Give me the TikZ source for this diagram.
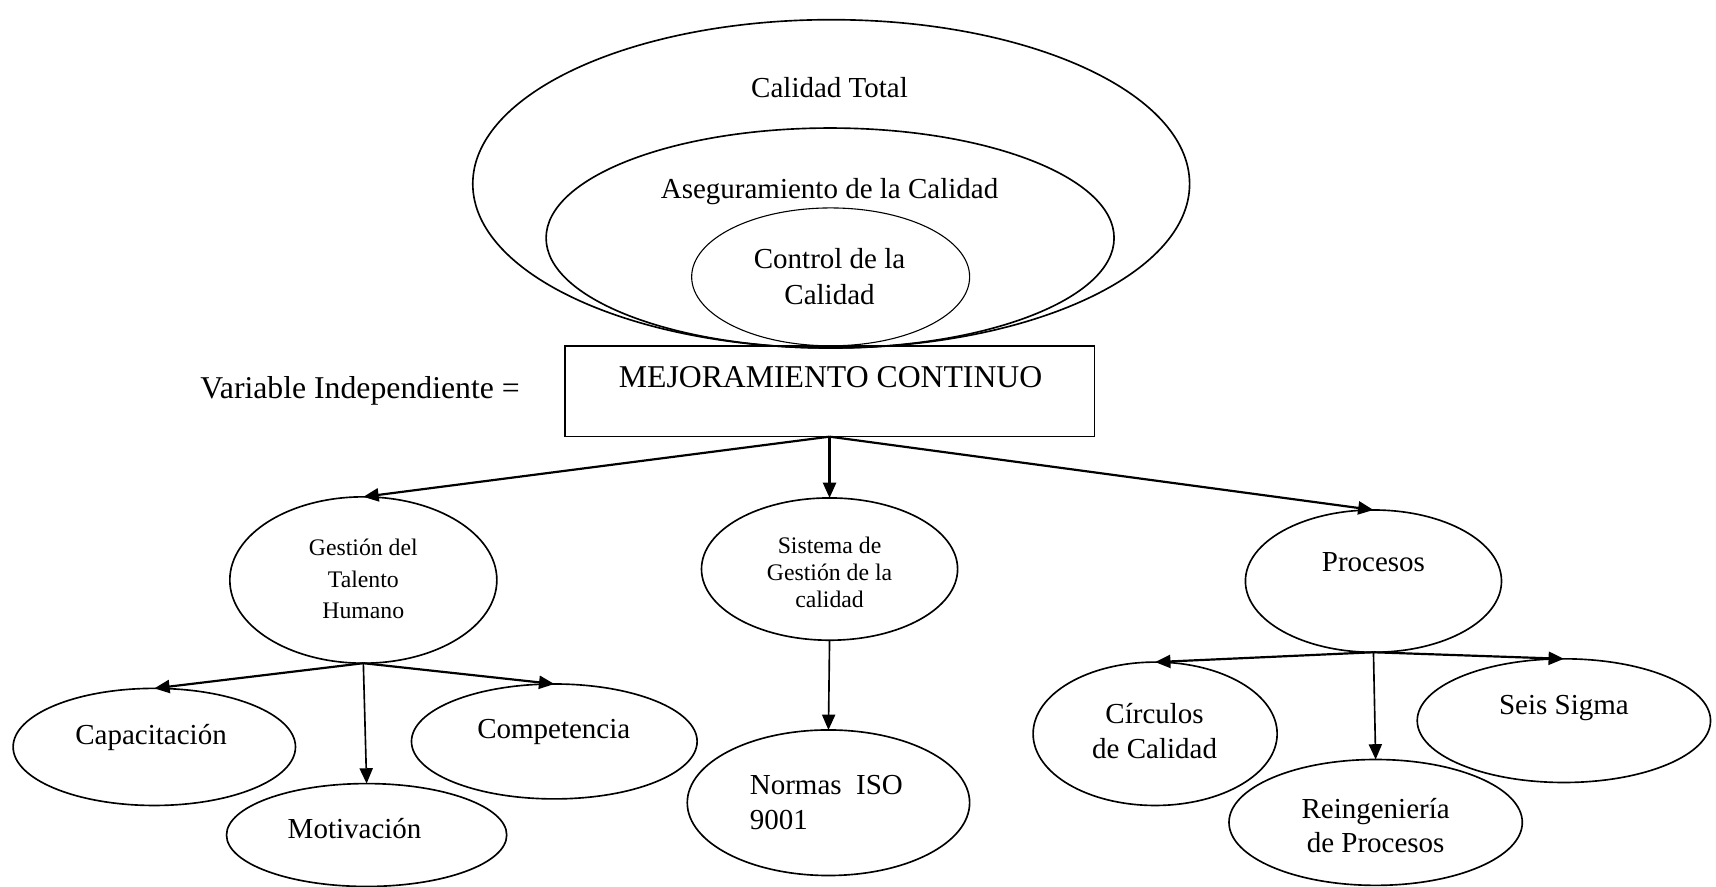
\documentclass[tikz,border=0pt]{standalone}
\usepackage{fontspec}
\setmainfont{Liberation Serif}
\usetikzlibrary{shapes.geometric,arrows.meta}
\begin{document}
\begin{tikzpicture}[x=1pt,y=-1pt,
  oval/.style={draw, ellipse, inner sep=0pt, outer sep=0pt, line width=1.5pt},
  txt/.style={font=\fontsize{26.5}{32}\selectfont, inner sep=0pt, align=center},
  bigtxt/.style={font=\fontsize{29}{34}\selectfont, inner sep=0pt},
  smalltxt/.style={font=\fontsize{21.7}{29}\selectfont, inner sep=0pt, align=center},
  link/.style={-{Triangle[length=14pt,width=12pt]}, line width=2pt},
  vlink/.style={-{Triangle[length=14pt,width=12pt]}, line width=1.5pt},
]
\useasboundingbox (0,0) rectangle (1568,810);

% nested quality ellipses
\node[oval, minimum width=655pt, minimum height=300pt] (total) at (759.5,168) {};
\node[oval, minimum width=519pt, minimum height=201pt] (aseg) at (758.5,217.5) {};
\node[oval, line width=1pt, minimum width=254pt, minimum height=126pt] (ctrl) at (759,253) {};
\node[txt] (totalT) at (758,80) {Calidad Total};
\node[txt] (asegT) at (758,175) {Aseguramiento de la Calidad};
\node[txt, font=\fontsize{26.5}{33}\selectfont] (ctrlT) at (758,253) {Control de la\\Calidad};

% central box
\node[draw, line width=1.5pt, inner sep=0pt, outer sep=0pt,
      minimum width=484pt, minimum height=83pt] (mc) at (758,357.5) {};
\node[bigtxt] (mcT) at (759,345) {MEJORAMIENTO CONTINUO};
\node[bigtxt, anchor=west] (var) at (183,357) {Variable Independiente =};

% second level
\node[oval, minimum width=244pt, minimum height=152pt] (gth) at (332,530) {};
\node[smalltxt] (gthT) at (332,529) {Gestión del\\Talento\\Humano};
\node[oval, minimum width=234pt, minimum height=130pt] (sgc) at (758,520) {};
\node[smalltxt, font=\fontsize{21.7}{25}\selectfont] (sgcT) at (758,523) {Sistema de\\Gestión de la\\calidad};
\node[oval, minimum width=234pt, minimum height=130pt] (proc) at (1255,531) {};
\node[txt] (procT) at (1255,514) {Procesos};

% third level: talento humano
\node[oval, minimum width=258pt, minimum height=107pt] (cap) at (141,682.5) {};
\node[txt] (capT) at (138,674) {Capacitación};
\node[oval, minimum width=256pt, minimum height=94pt] (mot) at (335,763) {};
\node[txt] (motT) at (324,757) {Motivación};
\node[oval, minimum width=261pt, minimum height=105pt] (comp) at (506.5,677.5) {};
\node[txt] (compT) at (506,669) {Competencia};

% third level: sistema de gestion
\node[oval, minimum width=258pt, minimum height=133pt] (iso) at (757,733.5) {};
\node[txt, anchor=west, align=left] (isoT) at (685,733) {Normas\ \ ISO\\9001};

% third level: procesos
\node[oval, minimum width=223pt, minimum height=131pt] (circ) at (1055.5,670.5) {};
\node[txt] (circT) at (1055,668) {Círculos\\de Calidad};
\node[oval, minimum width=268pt, minimum height=115pt] (reing) at (1257,751.5) {};
\node[txt, font=\fontsize{26.5}{31}\selectfont] (reingT) at (1257,754) {Reingeniería\\de Procesos};
\node[oval, minimum width=268pt, minimum height=113pt] (seis) at (1429,658.5) {};
\node[txt] (seisT) at (1429,647) {Seis Sigma};

% connectors
\draw[link] (mc.south) -- (gth.north);
\draw[link] (mc.south) -- (sgc.north);
\draw[link] (mc.south) -- (proc.north);

\draw[link] (gth.south) -- (cap.north);
\draw[vlink] (gth.south) -- (mot.north);
\draw[link] (gth.south) -- (comp.north);

\draw[vlink] (sgc.south) -- (iso.north);

\draw[link] (proc.south) -- (circ.north);
\draw[vlink] (proc.south) -- (reing.north);
\draw[link] (proc.south) -- (seis.north);
\end{tikzpicture}
\end{document}
